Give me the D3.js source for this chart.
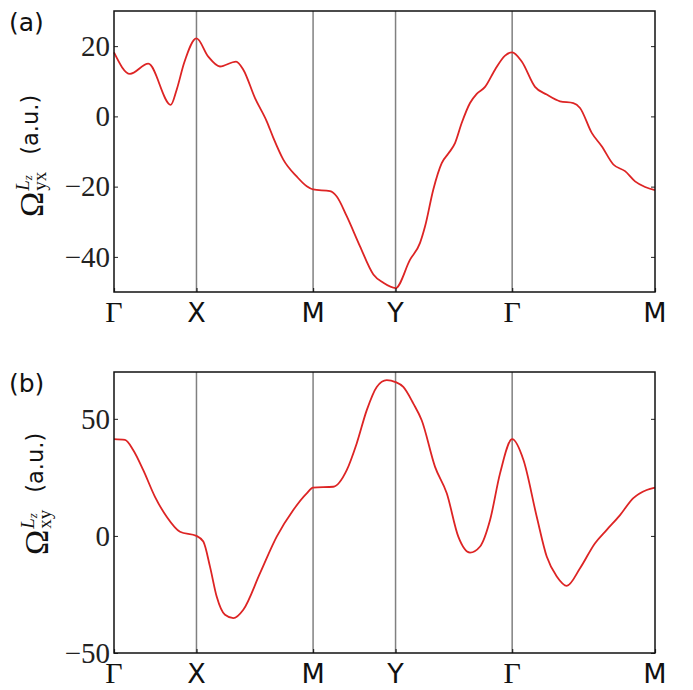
<!DOCTYPE html>
<html>
<head>
<meta charset="utf-8">
<script src="https://cdn.jsdelivr.net/npm/d3@7"></script>
<style>
body { margin: 0; background: #fff; }
</style>
</head>
<body>
<script>
const width = 693,
	  height = 690;

// k-path Γ-X-M-Y-Γ-M (distances along the path, rectangular cell b/a = √2)
const kLabels = ["Γ", "X", "M", "Y", "Γ", "M"];
const kPos = [0, 1, 2.414, 3.414, 4.828, 6.560];

// panel (a): Ω_yx
const kA = [0, 0.194, 0.416, 0.688, 0.76, 0.85, 1.0, 1.143, 1.285, 1.48, 1.568, 1.71, 1.852, 1.932,
	2.053, 2.215, 2.337, 2.414, 2.619, 2.701, 2.822, 2.983, 3.145, 3.266, 3.414, 3.59, 3.711, 3.772,
	3.872, 3.974, 4.054, 4.135, 4.216, 4.317, 4.398, 4.499, 4.62, 4.742, 4.828, 4.944, 5.105, 5.247,
	5.408, 5.57, 5.651, 5.793, 5.914, 6.055, 6.197, 6.318, 6.44, 6.56];
const omegaYX = [18.2, 12.1, 15.0, 3.3, 7.6, 15.2, 22.2, 17.0, 14.2, 15.6, 13.3, 5.2, -1.4, -6.1,
	-12.3, -17.1, -19.9, -20.8, -21.3, -22.8, -28.4, -37.0, -45.0, -47.4, -48.9, -40.8, -36.0, -31.3,
	-20.8, -13.3, -10.6, -7.6, -1.9, 3.8, 6.4, 8.4, 13.3, 17.3, 18.2, 15.6, 8.4, 6.2,
	4.3, 3.8, 2.4, -4.7, -8.5, -13.7, -15.6, -18.5, -20.1, -21.0];

// panel (b): Ω_xy
const kB = [0, 0.133, 0.234, 0.355, 0.497, 0.639, 0.8, 1.0, 1.083, 1.164, 1.245, 1.346, 1.447, 1.568,
	1.771, 1.973, 2.174, 2.337, 2.414, 2.659, 2.822, 2.943, 3.065, 3.186, 3.307, 3.414, 3.508, 3.63,
	3.731, 3.893, 4.035, 4.175, 4.317, 4.439, 4.56, 4.681, 4.828, 4.965, 5.126, 5.247, 5.369, 5.49,
	5.651, 5.833, 5.975, 6.136, 6.297, 6.459, 6.56];
const omegaXY = [41.3, 41.0, 36.6, 28.1, 16.7, 8.2, 1.8, 0, -2.4, -13.1, -25.9, -33.7, -35.1, -31.5,
	-15.9, -0.3, 11.1, 18.2, 20.6, 21.0, 28.1, 39.5, 53.7, 63.6, 66.5, 65.7, 63.6, 56.5,
	49.4, 29.5, 18.2, -0.3, -7.1, -4.5, 6.8, 26.7, 41.3, 32.4, 8.2, -8.8, -17.3, -21.3,
	-13.8, -3.1, 2.6, 8.9, 16.1, 19.6, 20.6];

const ticksA = [-40, -20, 0, 20],
	  ticksB = [-50, 0, 50];

var panels = [
	{ tag: "(a)", sub: "yx", k: kA, v: omegaYX, domain: [-50, 30], ticks: ticksA, top: 11, bottom: 292, labelX: 43, labelY: 217 },
	{ tag: "(b)", sub: "xy", k: kB, v: omegaXY, domain: [-50, 70], ticks: ticksB, top: 372, bottom: 653, labelX: 48, labelY: 555 }
];

const left = 114, right = 655;

var svg = d3.select("body").append("svg")
	.attr("width", width)
	.attr("height", height)
	.style("font-family", "'DejaVu Sans', sans-serif");

var x = d3.scaleLinear().domain([0, kPos[kPos.length - 1]]).range([left, right]);

panels.forEach(function (p) {
	var y = d3.scaleLinear().domain(p.domain).range([p.bottom, p.top]);
	var g = svg.append("g");

	// high-symmetry lines
	g.selectAll(".kline")
		.data(kPos.slice(1, -1))
		.enter().append("line")
		.attr("x1", d => x(d)).attr("x2", d => x(d))
		.attr("y1", p.top).attr("y2", p.bottom)
		.attr("stroke", "#808080")
		.attr("stroke-width", 1.5);

	// curve
	var line = d3.line()
		.x((d, i) => x(p.k[i]))
		.y(d => y(d))
		.curve(d3.curveMonotoneX);

	g.append("path")
		.datum(p.v)
		.attr("d", line)
		.attr("fill", "none")
		.attr("stroke", "#dd2424")
		.attr("stroke-width", 1.8);

	// inward ticks, left and right
	var yl = g.append("g").attr("transform", "translate(" + left + ",0)")
		.call(d3.axisRight(y).tickValues(p.ticks).tickSize(4).tickFormat(""));
	var yr = g.append("g").attr("transform", "translate(" + right + ",0)")
		.call(d3.axisLeft(y).tickValues(p.ticks).tickSize(4).tickFormat(""));
	[yl, yr].forEach(function (a) {
		a.select(".domain").remove();
		a.selectAll("line").attr("stroke", "#222").attr("stroke-width", 1);
	});

	// bottom ticks at k-points
	var xb = g.append("g").attr("transform", "translate(0," + p.bottom + ")")
		.call(d3.axisTop(x).tickValues(kPos).tickSize(4).tickFormat(""));
	xb.select(".domain").remove();
	xb.selectAll("line").attr("stroke", "#222").attr("stroke-width", 1.2);

	// y tick labels
	g.selectAll(".ylab")
		.data(p.ticks)
		.enter().append("text")
		.attr("x", left - 4)
		.attr("y", d => y(d))
		.attr("dy", "0.34em")
		.attr("text-anchor", "end")
		.style("font-family", "'Liberation Serif', serif")
		.style("font-size", "29px")
		.attr("fill", "#222")
		.text(d => d3.format("d")(d));

	// k labels
	g.selectAll(".klab")
		.data(kPos)
		.enter().append("text")
		.attr("x", d => x(d))
		.attr("y", p.bottom + 30)
		.attr("text-anchor", "middle")
		.style("font-family", (d, i) => kLabels[i] == "Γ" ? "'Liberation Serif', serif" : "'DejaVu Sans', sans-serif")
		.style("font-size", (d, i) => kLabels[i] == "Γ" ? "30px" : "27px")
		.attr("fill", "#111")
		.text((d, i) => kLabels[i]);

	// frame
	g.append("rect")
		.attr("x", left).attr("y", p.top)
		.attr("width", right - left).attr("height", p.bottom - p.top)
		.attr("fill", "none")
		.attr("stroke", "#111")
		.attr("stroke-width", 1.5);

	// panel tag
	svg.append("text")
		.attr("x", 9)
		.attr("y", p.top + 20)
		.style("font-size", "25px")
		.attr("fill", "#111")
		.text(p.tag);

	// y label: Ω^{Lz}_{sub} (a.u.)
	var lab = svg.append("g").attr("transform", "translate(" + p.labelX + "," + p.labelY + ") rotate(-90)");
	var om = lab.append("text")
		.attr("x", 0).attr("y", 0)
		.style("font-family", "'Liberation Serif', serif")
		.style("font-size", "34px")
		.attr("fill", "#111")
		.text("Ω");
	var w = om.node().getComputedTextLength();
	var sup = lab.append("text")
		.attr("x", w + 1).attr("y", -14)
		.style("font-family", "'Liberation Serif', serif")
		.style("font-style", "italic")
		.style("font-size", "19px")
		.attr("fill", "#111");
	sup.append("tspan").text("L");
	sup.append("tspan").attr("dy", 3).style("font-size", "13px").text("z");
	var sb = lab.append("text")
		.attr("x", w + 1).attr("y", 3)
		.style("font-family", "'Liberation Serif', serif")
		.style("font-size", "19px")
		.attr("fill", "#111")
		.text(p.sub);
	var w2 = Math.max(sup.node().getComputedTextLength(), sb.node().getComputedTextLength());
	lab.append("text")
		.attr("x", w + w2 + 18).attr("y", -5)
		.style("font-size", "22.5px")
		.attr("fill", "#111")
		.text("(a.u.)");
});
</script>
</body>
</html>
